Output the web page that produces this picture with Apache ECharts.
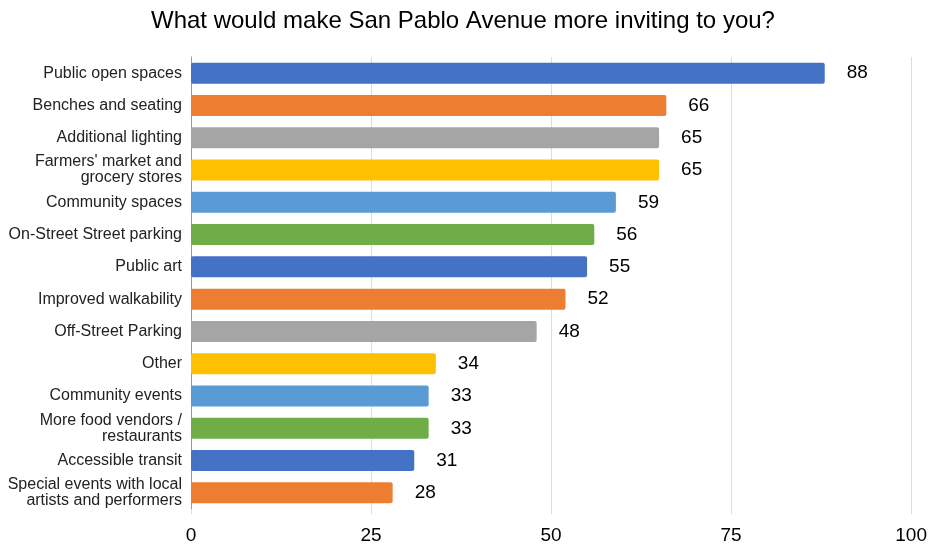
<!DOCTYPE html>
<html><head><meta charset="utf-8">
<script src="https://cdn.jsdelivr.net/npm/echarts@6/dist/echarts.min.js"></script>
<style>html,body{margin:0;padding:0;background:#fff}#c{width:930px;height:545px}</style>
</head><body><div id="c"></div>
<script>
const categories = [
  "Public open spaces",
  "Benches and seating",
  "Additional lighting",
  "Farmers' market and\ngrocery stores",
  "Community spaces",
  "On-Street Street parking",
  "Public art",
  "Improved walkability",
  "Off-Street Parking",
  "Other",
  "Community events",
  "More food vendors /\nrestaurants",
  "Accessible transit",
  "Special events with local\nartists and performers"
];
const values = [88, 66, 65, 65, 59, 56, 55, 52, 48, 34, 33, 33, 31, 28];
const xTicks = [0, 25, 50, 75, 100];
const palette = ["#4472C4", "#ED7D31", "#A5A5A5", "#FFC000", "#5B9BD5", "#70AD47"];

const chart = echarts.init(document.getElementById('c'), null, {renderer: 'canvas'});
chart.setOption({
  animation: false,
  backgroundColor: '#fff',
  title: {
    text: 'What would make San Pablo Avenue more inviting to you?',
    left: 146, top: 4,
    textStyle: {fontFamily: 'Liberation Sans, Arial, sans-serif', fontSize: 24, fontWeight: 'normal', color: '#000'}
  },
  grid: {left: 191, right: 17, top: 57, bottom: 33.5, containLabel: false},
  xAxis: {
    type: 'value', min: xTicks[0], max: xTicks[xTicks.length - 1], interval: 25,
    axisLine: {show: false},
    axisTick: {show: true, length: 5, lineStyle: {color: '#dddddd'}},
    splitLine: {show: true, lineStyle: {color: '#dddddd', width: 1}},
    axisLabel: {margin: 17, fontFamily: 'Liberation Sans, Arial, sans-serif', fontSize: 19, color: '#000'}
  },
  yAxis: {
    type: 'category', data: categories, inverse: true,
    axisLine: {show: true, lineStyle: {color: '#9a9a9a', width: 1}},
    axisTick: {show: false},
    axisLabel: {margin: 9, fontFamily: 'Liberation Sans, Arial, sans-serif', fontSize: 16, color: '#222', lineHeight: 16, align: 'right'}
  },
  series: [{
    type: 'bar',
    data: values.map((v, i) => ({value: v, itemStyle: {color: palette[i % palette.length]}})),
    barWidth: 21,
    itemStyle: {borderRadius: 2},
    label: {show: true, position: 'right', distance: 22, fontFamily: 'Liberation Sans, Arial, sans-serif', fontSize: 19, color: '#000'}
  }]
});
</script>
</body></html>
